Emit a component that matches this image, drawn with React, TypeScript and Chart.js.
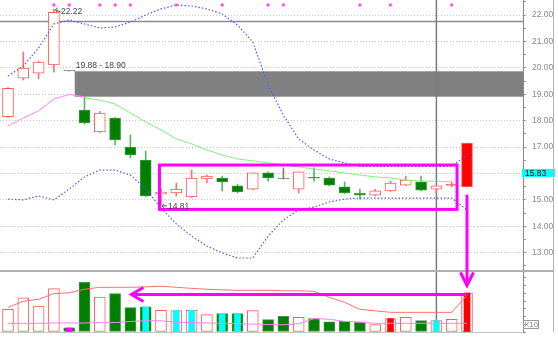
import React, { useEffect, useRef } from 'react';
import { Chart, registerables } from 'chart.js';

Chart.register(...registerables);

// ---------- data ----------
const dayIndex = [0, 1, 2, 3, 4, 5, 6, 7, 8, 9, 10, 11, 12, 13, 14, 15, 16, 17, 18, 19, 20, 21, 22, 23, 24, 25, 26, 27, 28, 29, 30];

const opens = [18.15, 19.61, 19.80, 20.11, 19.88, 18.40, 17.57, 18.10, 17.00, 16.51, 15.22, 15.26, 15.11, 15.79, 15.83, 15.53, 15.41, 16.02, 15.79, 15.41, 15.84, 15.83, 15.49, 15.26, 15.18, 15.34, 15.56, 15.68, 15.41, 15.55, 15.49];
const closes = [19.22, 19.99, 20.22, 22.10, 19.88, 17.91, 18.29, 17.27, 16.70, 15.15, 15.30, 15.41, 15.83, 15.90, 15.68, 15.30, 16.02, 15.83, 15.79, 16.06, 15.82, 15.56, 15.26, 15.18, 15.34, 15.64, 15.75, 15.37, 15.53, 15.57, 17.15];
const highs = [19.25, 20.60, 20.26, 22.22, 19.88, 18.90, 18.35, 18.12, 17.46, 16.85, 15.41, 15.64, 16.13, 15.94, 15.90, 15.60, 16.02, 16.06, 16.21, 16.06, 16.21, 15.87, 15.68, 15.41, 15.40, 15.71, 15.90, 15.90, 15.53, 15.68, 17.15];
const lows = [18.12, 19.54, 19.58, 19.84, 19.88, 17.87, 17.55, 17.08, 16.59, 15.12, 14.81, 15.15, 15.09, 15.64, 15.34, 15.26, 15.38, 15.71, 15.79, 15.26, 15.71, 15.53, 15.24, 15.03, 15.15, 15.32, 15.54, 15.34, 15.26, 15.49, 15.49];

const upperBand = [19.69, 20.07, 20.75, 21.66, 21.81, 21.66, 21.51, 21.55, 21.73, 22.00, 22.23, 22.38, 22.34, 22.23, 22.04, 21.62, 20.98, 19.35, 18.21, 17.30, 16.89, 16.55, 16.40, 16.27, 16.27, 16.27, 16.27, 16.27, 16.27, 16.27, 16.70];
const lowerBand = [15.03, 15.00, 15.15, 15.00, 15.41, 15.87, 16.13, 16.13, 15.94, 15.41, 14.69, 14.09, 13.63, 13.25, 12.99, 12.80, 12.80, 13.63, 14.24, 14.62, 14.73, 14.92, 15.03, 15.07, 15.07, 15.07, 15.07, 15.07, 15.07, 15.07, 14.62];
const maPink = [17.80, 18.10, 18.37, 18.82, 18.99, 18.90];
const maGreen = [null, null, null, null, null, 18.86, 18.78, 18.63, 18.29, 17.95, 17.65, 17.31, 17.12, 16.89, 16.70, 16.55, 16.48, 16.40, 16.32, 16.25, 16.17, 16.10, 16.02, 15.94, 15.87, 15.83, 15.75, 15.71, 15.71, 15.68];

const volumes = [15100, 22700, 17300, 28900, 2700, 33100, 23300, 25600, 16300, 16700, 14500, 14300, 14500, 11600, 12300, 12300, 14300, 8300, 10500, 9800, 8900, 6700, 7100, 6700, 4900, 8900, 9800, 7600, 7600, 8500, 26000];
const volMaRed = [16400, 20500, 21800, 25600, 26100, 28500, 29800, 29800, 29800, 30100, 30500, 29800, 29100, 28500, 28100, 27800, 27800, 27800, 27500, 27500, 27100, 23100, 19800, 15100, 14100, 13100, 13100, 13100, 13100, 13100, 24500];
const volMaPink = [5800, 5800, 5800, 6000, 6000, 6000, 6300, 6300, 7000, 7500, 7500, 6500, 6200, 6000, 5800, 5500, 5300, 5000, 4800, 5500, 8900, 8500, 7100, 6500, 5800, 5800, 5800, 5800, 5800, 5800, 5800];

const markerIdx = [3, 4, 6, 7, 8, 11, 14, 17, 18, 23, 25, 29];
const MARKER_LEVEL = 22.38;
const cyanVolIdx = [9, 11, 12, 14, 15, 28];
const redVolIdx = [25, 30];
const magentaVolIdx = [4];
const filledUpIdx = [30];

const priceTickLabels = [13, 14, 15, 16, 17, 18, 19, 20, 21, 22];
const volTickLabels = [10000, 20000, 30000];

const P_MIN = 12.345;
const P_MAX = 22.568;
const V_MIN = 0;
const V_MAX = 41333;
const X_MIN = -0.523;
const X_MAX = 33.66;

const REF_LINE = 21.77;
const GAP_INDEX = 4;
const GAP_TOP = 19.88;
const GAP_BOTTOM = 18.90;
const HIGH_IDX = 3;
const LOW_IDX = 10;
const CURSOR_IDX = 28;
const BOX_X0 = 9.9;
const BOX_X1 = 29.35;
const BOX_TOP = 16.32;
const BOX_BOTTOM = 14.64;
const ARROW_IDX = 30;
const ARROW_START = 15.2;
const ARROW_TIP_VOL = 31000;
const VOL_ARROW_LEVEL = 25000;
const VOL_ARROW_TIP_IDX = 8;
const LAST_PRICE = '15.83';
const LAST_PRICE_LEVEL = 16.02;
const VOL_UNIT = 'X10';

// ---------- styles ----------
const FONT = '"Liberation Sans", Arial, sans-serif';
const RED = '#ff5c5c';
const RED_WICK = '#ff7070';
const GREEN_FILL = '#007f00';
const GREEN_BORDER = '#3c9c3c';
const GREEN_WICK = '#5fb55f';
const GRAY = '#808080';
const MAGENTA = '#ff00ff';
const BLUE = '#5555ff';
const AXIS_TEXT = '#8a8a8a';
const AXIS_LINE = '#8a8a8a';

const isInt = (v: number) => Math.abs(v - Math.round(v)) < 1e-6;

const kind = (i: number) => {
  const d = closes[i] - opens[i];
  if (Math.abs(d) < 0.005) return 'flat';
  return d > 0 ? 'up' : 'down';
};

const bodyBorder = (i: number) => {
  const k = kind(i);
  return k === 'up' ? RED : k === 'down' ? GREEN_BORDER : GRAY;
};
const bodyFill = (i: number) => {
  const k = kind(i);
  if (filledUpIdx.includes(i)) return '#ff0000';
  if (k === 'flat') return GRAY;
  if (Math.abs(closes[i] - opens[i]) < 0.04) return k === 'up' ? RED : GREEN_FILL;
  return k === 'up' ? '#ffffff' : GREEN_FILL;
};
const wickColor = (i: number) => {
  const k = kind(i);
  return k === 'up' ? RED_WICK : k === 'down' ? GREEN_WICK : GRAY;
};

function line(ctx: CanvasRenderingContext2D, x1: number, y1: number, x2: number, y2: number) {
  ctx.beginPath();
  ctx.moveTo(x1, y1);
  ctx.lineTo(x2, y2);
  ctx.stroke();
}

const axisFit = (w: number) => (s: any) => {
  s.width = w;
  s.paddingTop = 0;
  s.paddingBottom = 0;
};

const pricePlugin = {
  id: 'priceOverlay',
  beforeDatasetsDraw(chart: any) {
    const { ctx, chartArea: ca, scales } = chart;
    const x = scales.x, y = scales.y;
    ctx.save();
    // reference line
    ctx.strokeStyle = '#8c8c8c';
    ctx.lineWidth = 1.5;
    const ry = Math.round(y.getPixelForValue(REF_LINE)) + 0.5;
    line(ctx, ca.left, ry, ca.right, ry);
    // gap box
    const gx = x.getPixelForValue(GAP_INDEX) + 5.5;
    const gt = y.getPixelForValue(GAP_TOP);
    const gb = y.getPixelForValue(GAP_BOTTOM);
    ctx.fillStyle = '#808080';
    ctx.fillRect(gx, gt, ca.right - gx, gb - gt);
    ctx.strokeStyle = '#a6a6a6';
    ctx.lineWidth = 1;
    line(ctx, gx, Math.round(gt) + 0.5, ca.right, Math.round(gt) + 0.5);
    line(ctx, gx, Math.round(gb) - 0.5, ca.right, Math.round(gb) - 0.5);
    // cursor
    ctx.strokeStyle = '#7a7a7a';
    ctx.lineWidth = 1.5;
    const cx = x.getPixelForValue(CURSOR_IDX);
    line(ctx, cx, ca.top, cx, ca.bottom);
    ctx.restore();
  },
  afterDatasetsDraw(chart: any) {
    const { ctx, chartArea: ca, scales } = chart;
    const x = scales.x, y = scales.y;
    ctx.save();
    // axis line
    ctx.strokeStyle = AXIS_LINE;
    ctx.lineWidth = 1;
    line(ctx, Math.round(ca.right) + 0.5, 0, Math.round(ca.right) + 0.5, chart.height);
    // magenta box
    ctx.strokeStyle = MAGENTA;
    ctx.lineWidth = 3;
    const bx0 = x.getPixelForValue(BOX_X0), bx1 = x.getPixelForValue(BOX_X1);
    const by0 = y.getPixelForValue(BOX_TOP), by1 = y.getPixelForValue(BOX_BOTTOM);
    ctx.strokeRect(bx0, by0, bx1 - bx0, by1 - by0);
    // vertical arrow shaft
    const ax = x.getPixelForValue(ARROW_IDX);
    line(ctx, ax, y.getPixelForValue(ARROW_START), ax, ca.bottom);

    // labels
    ctx.font = `8.5px ${FONT}`;
    ctx.fillStyle = '#444';
    ctx.strokeStyle = '#555';
    ctx.lineWidth = 1;
    ctx.textBaseline = 'middle';
    ctx.textAlign = 'left';
    // high
    const hx = x.getPixelForValue(HIGH_IDX), hy = y.getPixelForValue(highs[HIGH_IDX]);
    line(ctx, hx + 7, hy + 3, hx + 1.5, hy + 0.5);
    line(ctx, hx + 1.5, hy + 0.5, hx + 4, hy - 1.5);
    line(ctx, hx + 1.5, hy + 0.5, hx + 3.5, hy + 3);
    ctx.fillText(highs[HIGH_IDX].toFixed(2), hx + 7, hy + 2.5);
    // low
    const lx = x.getPixelForValue(LOW_IDX), ly = y.getPixelForValue(lows[LOW_IDX]);
    line(ctx, lx + 6, ly + 1, lx + 1, ly + 1);
    line(ctx, lx + 1, ly + 1, lx + 3, ly - 1);
    line(ctx, lx + 1, ly + 1, lx + 3, ly + 3);
    ctx.fillText(lows[LOW_IDX].toFixed(2), lx + 7, ly + 1.5);
    // gap label
    const gx = x.getPixelForValue(GAP_INDEX) + 5.5;
    const gt = y.getPixelForValue(GAP_TOP);
    ctx.textBaseline = 'alphabetic';
    ctx.fillText(`${GAP_TOP.toFixed(2)} - ${GAP_BOTTOM.toFixed(2)}`, gx + 1, gt - 2.5);

    // last price label
    const py = y.getPixelForValue(LAST_PRICE_LEVEL);
    ctx.fillStyle = '#00ffff';
    ctx.fillRect(ca.right - 1, py - 4, 33, 8);
    ctx.fillStyle = '#000';
    ctx.textBaseline = 'middle';
    ctx.fillText(LAST_PRICE, ca.right + 2, py + 0.5);

    // far right ruler
    ctx.strokeStyle = '#b4b4b4';
    ctx.lineWidth = 1;
    line(ctx, 553.5, 0, 553.5, chart.height);
    ctx.restore();
  },
};

const volPlugin = {
  id: 'volOverlay',
  beforeDatasetsDraw(chart: any) {
    const { ctx, chartArea: ca, scales } = chart;
    const x = scales.x;
    ctx.save();
    ctx.strokeStyle = '#7a7a7a';
    ctx.lineWidth = 1.5;
    const cx = x.getPixelForValue(CURSOR_IDX);
    line(ctx, cx, ca.top, cx, ca.bottom);
    ctx.restore();
  },
  afterDatasetsDraw(chart: any) {
    const { ctx, chartArea: ca, scales } = chart;
    const x = scales.x, y = scales.y;
    ctx.save();
    // axis line
    ctx.strokeStyle = AXIS_LINE;
    ctx.lineWidth = 1;
    line(ctx, Math.round(ca.right) + 0.5, 0, Math.round(ca.right) + 0.5, ca.bottom + 1);
    // separator and bottom line
    ctx.strokeStyle = '#b0b0b0';
    ctx.lineWidth = 2;
    line(ctx, 0, ca.top + 1, 553, ca.top + 1);
    ctx.lineWidth = 1;
    ctx.strokeStyle = '#c4c4c4';
    line(ctx, 0, Math.round(ca.bottom) + 0.5, ca.right, Math.round(ca.bottom) + 0.5);

    // horizontal arrow
    ctx.strokeStyle = MAGENTA;
    ctx.lineWidth = 3;
    ctx.lineJoin = 'miter';
    const hy = y.getPixelForValue(VOL_ARROW_LEVEL);
    const tipX = x.getPixelForValue(VOL_ARROW_TIP_IDX);
    const endX = x.getPixelForValue(ARROW_IDX);
    line(ctx, tipX + 1, hy, endX, hy);
    ctx.beginPath();
    ctx.moveTo(tipX + 13, hy - 7);
    ctx.lineTo(tipX + 1, hy);
    ctx.lineTo(tipX + 13, hy + 7);
    ctx.stroke();
    // vertical arrow
    const ax = x.getPixelForValue(ARROW_IDX);
    const ty = y.getPixelForValue(ARROW_TIP_VOL);
    line(ctx, ax, ca.top, ax, ty);
    ctx.beginPath();
    ctx.moveTo(ax - 6.5, ty - 13);
    ctx.lineTo(ax, ty);
    ctx.lineTo(ax + 6.5, ty - 13);
    ctx.stroke();

    // unit box
    ctx.strokeStyle = '#9a9a9a';
    ctx.lineWidth = 1;
    ctx.strokeRect(ca.right + 0.5, ca.bottom - 11.5, 15, 8);
    ctx.fillStyle = AXIS_TEXT;
    ctx.font = `8px ${FONT}`;
    ctx.textAlign = 'center';
    ctx.textBaseline = 'middle';
    ctx.fillText(VOL_UNIT, ca.right + 8, ca.bottom - 7);

    ctx.strokeStyle = '#b4b4b4';
    line(ctx, 553.5, 0, 553.5, ca.bottom);
    ctx.restore();
  },
};

export default function App() {
  const priceRef = useRef<HTMLCanvasElement>(null);
  const volRef = useRef<HTMLCanvasElement>(null);

  useEffect(() => {
    const common: any = {
      responsive: false,
      animation: false,
      devicePixelRatio: 1,
      events: [],
      plugins: { legend: { display: false }, tooltip: { enabled: false } },
      elements: { line: { tension: 0 }, point: { radius: 0 } },
    };
    const xScale: any = { type: 'linear', min: X_MIN, max: X_MAX, display: false, offset: false, grid: { offset: false } };

    const priceChart = new Chart(priceRef.current as HTMLCanvasElement, {
      type: 'bar',
      data: {
        datasets: [
          {
            type: 'scatter',
            data: markerIdx.map((i) => ({ x: i, y: MARKER_LEVEL })),
            pointStyle: 'rect',
            pointRadius: 1.6,
            backgroundColor: MAGENTA,
            borderColor: '#ff80ff',
            borderWidth: 1,
            order: 0,
          },
          {
            type: 'line',
            data: dayIndex.map((i) => ({ x: i, y: upperBand[i] })),
            borderColor: BLUE,
            borderWidth: 1.2,
            borderDash: [1.5, 2],
            pointRadius: 0,
            order: 1,
          },
          {
            type: 'line',
            data: dayIndex.map((i) => ({ x: i, y: lowerBand[i] })),
            borderColor: BLUE,
            borderWidth: 1.2,
            borderDash: [1.5, 2],
            pointRadius: 0,
            order: 1,
          },
          {
            type: 'line',
            data: maPink.map((v, i) => ({ x: dayIndex[i], y: v })),
            borderColor: '#ff80ff',
            borderWidth: 1,
            pointRadius: 0,
            order: 2,
          },
          {
            type: 'line',
            data: maGreen.map((v, i) => ({ x: dayIndex[i], y: v })).filter((p) => p.y !== null),
            borderColor: '#80f080',
            borderWidth: 1,
            pointRadius: 0,
            order: 2,
          },
          {
            type: 'bar',
            data: dayIndex.map((i) => ({ x: i, y: [opens[i], closes[i]] })),
            backgroundColor: dayIndex.map(bodyFill),
            borderColor: dayIndex.map((i) => (filledUpIdx.includes(i) ? '#ff6060' : bodyBorder(i))),
            borderWidth: 1,
            borderSkipped: false,
            barThickness: 11,
            minBarLength: 1,
            grouped: false,
            order: 3,
          },
          {
            type: 'bar',
            data: dayIndex.map((i) => ({ x: i, y: [lows[i], highs[i]] })),
            backgroundColor: dayIndex.map(wickColor),
            borderWidth: 0,
            barThickness: 1,
            grouped: false,
            order: 4,
          },
        ] as any,
      },
      options: {
        ...common,
        layout: { padding: 0, autoPadding: false },
        scales: {
          x: xScale,
          y: {
            position: 'right',
            min: P_MIN,
            max: P_MAX,
            afterFit: axisFit(35),
            ticks: {
              stepSize: 0.5,
              includeBounds: false,
              autoSkip: false,
              padding: 6,
              color: AXIS_TEXT,
              font: { family: FONT, size: 8.5 },
              callback: (v: any) => (priceTickLabels.some((t) => Math.abs(t - v) < 1e-6) ? Number(v).toFixed(2) : ''),
            },
            grid: {
              color: (c: any) => (c.tick && isInt(c.tick.value) ? '#cccccc' : 'rgba(0,0,0,0)'),
              tickColor: '#9a9a9a',
              tickLength: 3,
              lineWidth: 1,
            },
            border: { display: false, dash: [1, 2] },
          },
        },
      },
      plugins: [pricePlugin],
    } as any);

    const volChart = new Chart(volRef.current as HTMLCanvasElement, {
      type: 'bar',
      data: {
        datasets: [
          {
            type: 'line',
            data: dayIndex.map((i) => ({ x: i, y: volMaPink[i] })),
            borderColor: '#ff80ff',
            borderWidth: 1,
            pointRadius: 0,
            order: 0,
          },
          {
            type: 'line',
            data: dayIndex.map((i) => ({ x: i, y: volMaRed[i] })),
            borderColor: '#ff7070',
            borderWidth: 1,
            pointRadius: 0,
            order: 1,
          },
          {
            type: 'bar',
            data: dayIndex
              .filter((i) => cyanVolIdx.includes(i) || redVolIdx.includes(i) || magentaVolIdx.includes(i))
              .map((i) => ({ x: i, y: volumes[i] })),
            backgroundColor: dayIndex
              .filter((i) => cyanVolIdx.includes(i) || redVolIdx.includes(i) || magentaVolIdx.includes(i))
              .map((i) => (cyanVolIdx.includes(i) ? '#00ffff' : redVolIdx.includes(i) ? '#ff0000' : MAGENTA)),
            borderWidth: 0,
            barThickness: 6,
            grouped: false,
            order: 2,
          },
          {
            type: 'bar',
            data: dayIndex.map((i) => ({ x: i, y: volumes[i] })),
            backgroundColor: dayIndex.map((i) => (kind(i) === 'up' ? '#ffffff' : GREEN_FILL)),
            borderColor: dayIndex.map((i) => (kind(i) === 'up' ? RED : GREEN_BORDER)),
            borderWidth: 1,
            borderSkipped: false,
            barThickness: 11,
            grouped: false,
            order: 3,
          },
        ] as any,
      },
      options: {
        ...common,
        layout: { padding: { top: 0, left: 0, right: 0, bottom: 9 }, autoPadding: false },
        scales: {
          x: xScale,
          y: {
            position: 'right',
            min: V_MIN,
            max: V_MAX,
            afterFit: axisFit(35),
            ticks: {
              stepSize: 5000,
              includeBounds: false,
              autoSkip: false,
              padding: 6,
              color: AXIS_TEXT,
              font: { family: FONT, size: 8.5 },
              callback: (v: any) => (volTickLabels.includes(Number(v)) ? String(v) : ''),
            },
            grid: {
              color: (c: any) => (c.tick && volTickLabels.includes(c.tick.value) ? '#cccccc' : 'rgba(0,0,0,0)'),
              tickColor: '#9a9a9a',
              tickLength: 3,
              lineWidth: 1,
            },
            border: { display: false, dash: [1, 2] },
          },
        },
      },
      plugins: [volPlugin],
    } as any);

    return () => {
      priceChart.destroy();
      volChart.destroy();
    };
  }, []);

  return (
    <div style={{ position: 'absolute', left: 0, top: 0, width: 558, height: 341, background: '#fff' }}>
      <canvas ref={priceRef} width={558} height={270} style={{ display: 'block', width: 558, height: 270 }} />
      <canvas ref={volRef} width={558} height={71} style={{ display: 'block', width: 558, height: 71 }} />
    </div>
  );
}
